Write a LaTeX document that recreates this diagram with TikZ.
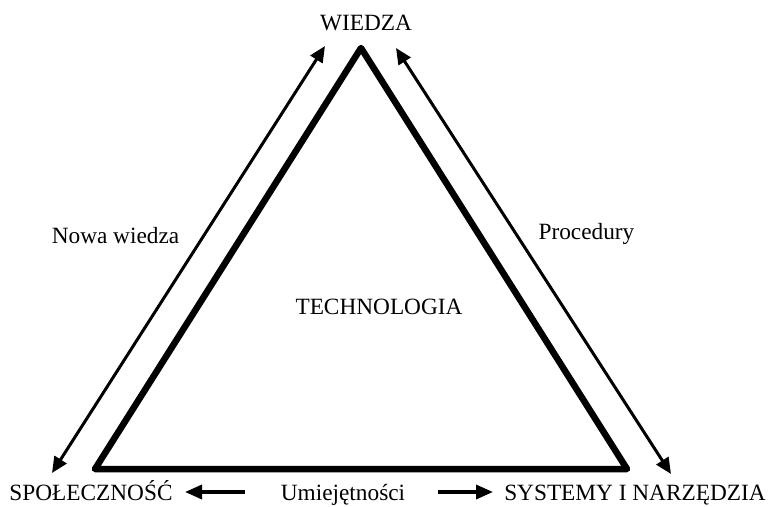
\documentclass[tikz,border=0pt]{standalone}
\usepackage{fontspec}
\setmainfont{Liberation Serif}
\usetikzlibrary{arrows.meta}
\begin{document}
\begin{tikzpicture}[x=1pt,y=-1pt,
  lbl/.style={anchor=base,inner sep=0pt,font=\fontsize{23.3}{28}\selectfont},
  frame/.style={line width=6.5pt,line join=round},
  tip/.style={Triangle[length=16pt,width=14pt]},
  flow/.style={line width=3pt,{Triangle[length=16pt,width=14pt]}-{Triangle[length=16pt,width=14pt]}},
  flowb/.style={line width=3.5pt,-{Triangle[length=17pt,width=14pt]}}]
\useasboundingbox (0,0) rectangle (768,506);
% triangle corners
\coordinate (top) at (361,48);
\coordinate (bl) at (95,469);
\coordinate (br) at (627,469);
\draw[frame] (top) -- (br) -- (bl) -- cycle;
% side arrow end points
\coordinate (la) at (52,473);
\coordinate (lb) at (325,46);
\coordinate (ra) at (396,48);
\coordinate (rb) at (671,474);
\draw[flow] (la) -- (lb);
\draw[flow] (ra) -- (rb);
% labels
\node[lbl] (wiedza) at (366,30) {WIEDZA};
\node[lbl] (nowa) at (115.5,243) {Nowa wiedza};
\node[lbl] (proc) at (586.5,239) {Procedury};
\node[lbl] (tech) at (379,314) {TECHNOLOGIA};
\node[lbl] (spol) at (91,500) {SPOŁECZNOŚĆ};
\node[lbl] (umie) at (343,500) {Umiejętności};
\node[lbl] (sys) at (635,500) {SYSTEMY I NARZĘDZIA};
% bottom arrows
\coordinate (ua) at (245,492);
\coordinate (ub) at (185,492);
\coordinate (uc) at (438,492);
\coordinate (ud) at (493,492);
\draw[flowb] (ua) -- (ub);
\draw[flowb] (uc) -- (ud);
\end{tikzpicture}
\end{document}
